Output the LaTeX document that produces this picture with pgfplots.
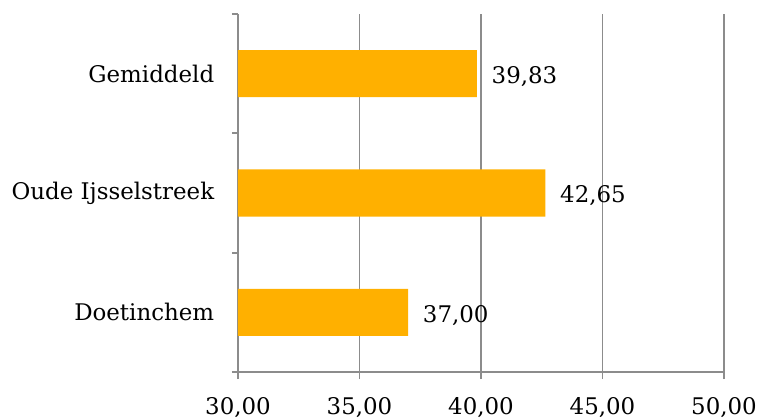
\documentclass[border=0pt]{standalone}
\usepackage{pgfplots}
\pgfplotsset{compat=1.18}
\usepackage{fontspec}
\setmainfont{DejaVu Serif}
\definecolor{barc}{HTML}{FFB000}
\definecolor{gridc}{HTML}{8C8C8C}
\begin{document}
\fontsize{23}{27}\selectfont
\begin{tikzpicture}
\begin{axis}[
  scale only axis,
  width=486bp, height=358bp,
  xbar, bar width=47bp,
  xmin=30, xmax=50,
  ymin=-0.5, ymax=2.5,
  axis lines*=left,
  axis line style={gridc, line width=1.8bp},
  xtick={30,35,40,45,50},
  xmajorgrids, major grid style={gridc, line width=1.6bp},
  major tick length=7bp,
  tick align=outside,
  xtick style={gridc, line width=1.6bp},
  ytick={0,1,2},
  yticklabels={Doetinchem,Oude Ijsselstreek,Gemiddeld},
  major y tick style={draw=none},
  minor ytick={-0.5,0.5,1.5,2.5},
  minor tick length=6bp,
  minor y tick style={draw=gridc, line width=1.8bp},
  yticklabel style={font=\fontsize{23}{27}\selectfont, xshift=-9bp},
  xticklabel style={font=\fontsize{23}{27}\selectfont, yshift=-11bp},
  /pgf/number format/assume math mode=true,
  xticklabel={\pgfmathprintnumber[fixed, fixed zerofill, precision=2, use comma]{\tick}},
  nodes near coords={\pgfmathprintnumber[fixed, fixed zerofill, precision=2, use comma, assume math mode=true]{\pgfplotspointmeta}},
  nodes near coords style={font=\fontsize{23}{27}\selectfont, anchor=west, xshift=7bp, yshift=-3bp, black},
  point meta=explicit,
  clip=true,
]
\addplot[fill=barc, draw=none] coordinates {
  (37.00,0) [37.00]
  (42.65,1) [42.65]
  (39.83,2) [39.83]
};
\end{axis}
\pgfresetboundingbox
\path[use as bounding box] ([xshift=-238bp,yshift=-47bp]current axis.south west) rectangle ([xshift=38bp,yshift=14bp]current axis.north east);
\end{tikzpicture}
\end{document}
